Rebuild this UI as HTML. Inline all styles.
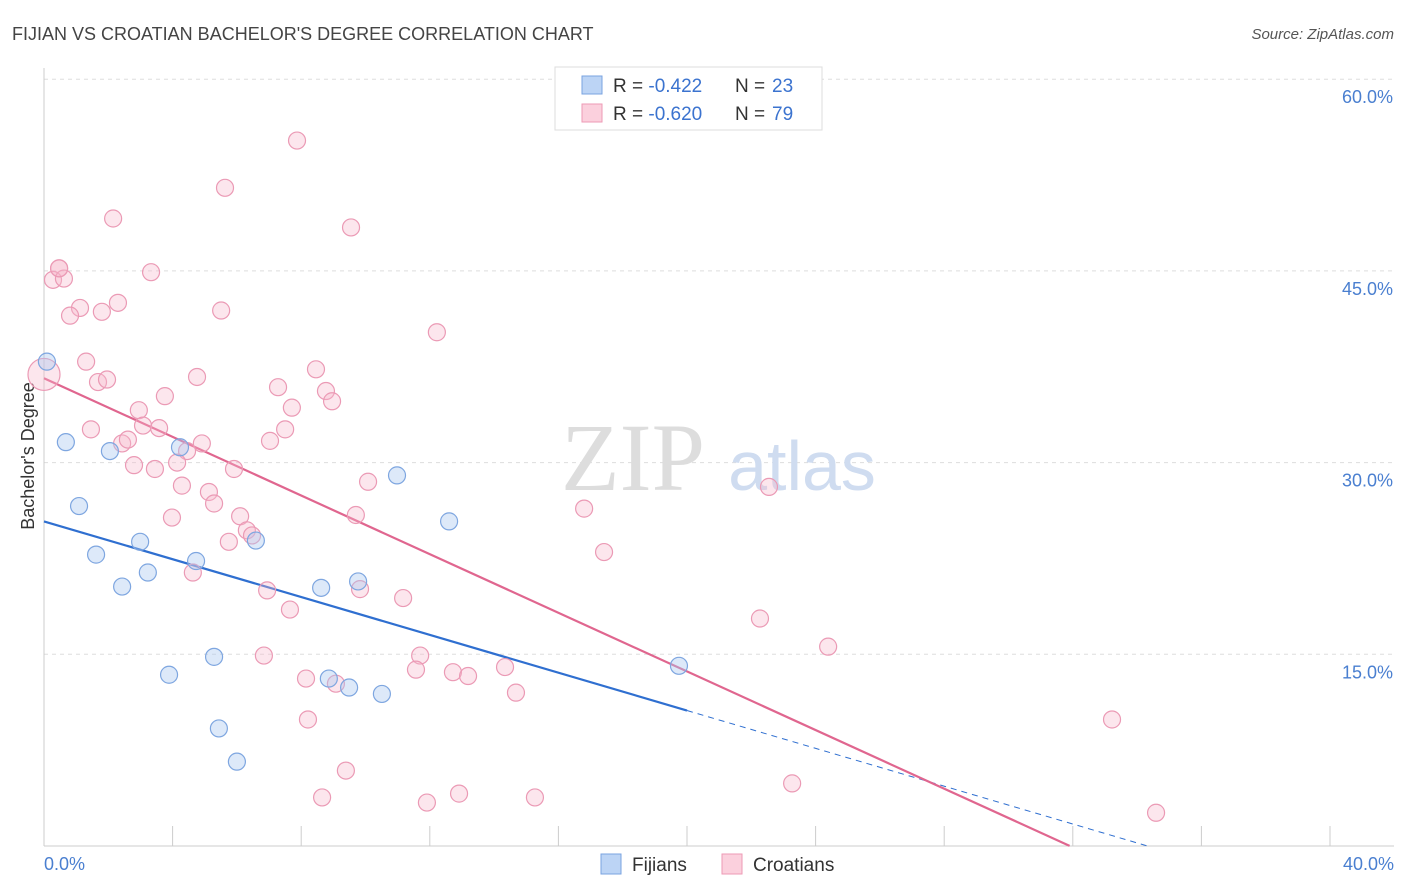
<!DOCTYPE html>
<html><head><meta charset="utf-8"><style>
body{margin:0;background:#fff;font-family:"Liberation Sans",sans-serif}
svg{display:block}
</style></head><body>
<svg id="chart" width="1406" height="892">
<text x="12" y="40" font-size="18" fill="#444">FIJIAN VS CROATIAN BACHELOR'S DEGREE CORRELATION CHART</text>
<text x="1394" y="39" font-size="15" fill="#555" font-style="italic" text-anchor="end">Source: ZipAtlas.com</text>
<g id="grid"></g>
<g id="axes"></g>
<text x="633" y="490" font-size="96" fill="#ddd" font-family="Liberation Serif,serif" text-anchor="middle">ZIP</text>
<text x="802" y="490" font-size="70" fill="#cfdcf0" text-anchor="middle">atlas</text>
<text transform="translate(34,456) rotate(-90)" font-size="18" fill="#333" text-anchor="middle">Bachelor's Degree</text>
<g id="lines"></g>
<g id="pts"></g>
<g>
<rect x="555" y="67" width="267" height="63" fill="#fff" stroke="#ddd"/>
<rect x="582" y="76" width="20" height="18" fill="#bcd4f5" stroke="#7aa3e0"/>
<text x="613" y="92" font-size="19" fill="#333">R = <tspan fill="#3b73cf">-0.422</tspan></text>
<text x="735" y="92" font-size="19" fill="#333">N = </text>
<text x="772" y="92" font-size="19" fill="#3b73cf">23</text>
<rect x="582" y="104" width="20" height="18" fill="#fbd0dd" stroke="#ee9ab5"/>
<text x="613" y="120" font-size="19" fill="#333">R = <tspan fill="#3b73cf">-0.620</tspan></text>
<text x="735" y="120" font-size="19" fill="#333">N = </text>
<text x="772" y="120" font-size="19" fill="#3b73cf">79</text>
</g>
<g>
<rect x="601" y="854" width="20" height="20" fill="#bcd4f5" stroke="#7aa3e0"/>
<text x="632" y="871" font-size="19" fill="#333">Fijians</text>
<rect x="722" y="854" width="20" height="20" fill="#fbd0dd" stroke="#ee9ab5"/>
<text x="753" y="871" font-size="19" fill="#333">Croatians</text>
</g>
</svg>
<script>
const xTicks=[0,4,8,12,16,20,24,28,32,36,40];
const yTicks=[15,30,45,60];
const fijX=[0.09,0.68,1.09,1.62,2.05,2.43,2.99,3.23,3.89,4.23,4.73,5.29,5.44,6.00,6.59,8.62,8.86,9.49,9.77,10.51,10.98,12.60,19.75];
const fijY=[37.9,31.6,26.6,22.8,30.9,20.3,23.8,21.4,13.4,31.2,22.3,14.8,9.2,6.6,23.9,20.2,13.1,12.4,20.7,11.9,29.0,25.4,14.1];
const croX=[7.87,5.63,2.15,9.55,3.33,0.47,0.28,0.62,5.51,1.80,2.30,1.12,0.81,12.22,1.31,1.68,1.96,4.76,8.46,7.28,8.77,8.96,3.76,2.95,7.71,1.46,3.08,3.58,2.43,2.61,4.91,4.45,7.03,7.50,4.14,2.80,3.45,5.91,4.29,10.08,22.55,5.13,5.29,9.70,16.80,3.98,6.10,6.31,6.47,5.75,17.42,4.63,6.94,11.17,7.65,9.83,22.27,24.39,6.84,11.70,11.57,12.72,13.19,14.34,8.15,9.08,14.68,8.21,33.22,9.39,8.65,11.91,12.91,15.27,23.27,34.59,0.0,0.47];
const croY=[55.2,51.5,49.1,48.4,44.9,45.2,44.3,44.4,41.9,41.8,42.5,42.1,41.5,40.2,37.9,36.3,36.5,36.7,37.3,35.9,35.6,34.8,35.2,34.1,34.3,32.6,32.9,32.7,31.5,31.8,31.5,30.9,31.7,32.6,30.0,29.8,29.5,29.5,28.2,28.5,28.1,27.7,26.8,25.9,26.4,25.7,25.8,24.7,24.3,23.8,23.0,21.4,20.0,19.4,18.5,20.1,17.8,15.6,14.9,14.9,13.8,13.6,13.3,14.0,13.1,12.7,12.0,9.9,9.9,5.9,3.8,3.4,4.1,3.8,4.9,2.6,36.9,45.2];
const croR=[10,10,10,10,10,10,10,10,10,10,10,10,10,10,10,10,10,10,10,10,10,10,10,10,10,10,10,10,10,10,10,10,10,10,10,10,10,10,10,10,10,10,10,10,10,10,10,10,10,10,10,10,10,10,10,10,10,10,10,10,10,10,10,10,10,10,10,10,10,10,10,10,10,10,10,10,16,10];
const fijLine=[25.4,-0.74];const fijSolidEnd=20;const fijDashEnd=34.4;
const croLine=[36.6,-1.147];const croEnd=31.9;
const X=v=>44+v*32.15, Y=v=>846-v*12.78;
const NS="http://www.w3.org/2000/svg";
function mk(t,a,p){const e=document.createElementNS(NS,t);for(const k in a)e.setAttribute(k,a[k]);p.appendChild(e);return e;}
const grid=document.getElementById('grid'),axes=document.getElementById('axes');
yTicks.forEach(t=>{const l=mk('line',{x1:44,x2:1394,y1:Y(t),y2:Y(t),stroke:'#ddd','stroke-dasharray':'4,4'},grid);


const tx=mk('text',{x:1393,y:Y(t)+24,'font-size':18,fill:'#4a7fd0','text-anchor':'end'},axes);tx.textContent=t.toFixed(1)+'%';

});
mk('line',{x1:44,x2:44,y1:68,y2:846,stroke:'#ccc'},axes);
mk('line',{x1:44,x2:1394,y1:846,y2:846,stroke:'#ccc'},axes);
xTicks.forEach(t=>{const l=mk('line',{x1:X(t),x2:X(t),y1:826,y2:846,stroke:'#ccc'},axes);

});
[[0,'start'],[40,'end']].forEach(([t,a])=>{const tx=mk('text',{x:t?1394:44,y:870,'font-size':18,fill:'#4a7fd0','text-anchor':a},axes);tx.textContent=t.toFixed(1)+'%';

});
const pts=document.getElementById('pts');
croX.forEach((x,i)=>{const c=mk('circle',{cx:X(x),cy:Y(croY[i]),r:croR[i]==16?16:8.5,fill:'rgba(247,182,203,0.35)',stroke:'#eb9ab5','stroke-width':1.2},pts);

});
fijX.forEach((x,i)=>{const c=mk('circle',{cx:X(x),cy:Y(fijY[i]),r:8.5,fill:'rgba(170,200,240,0.4)',stroke:'#7ea6e0','stroke-width':1.2},pts);

});
const lines=document.getElementById('lines');
const f=v=>fijLine[0]+fijLine[1]*v, g=v=>croLine[0]+croLine[1]*v;
let l1=mk('line',{x1:X(0),y1:Y(f(0)),x2:X(fijSolidEnd),y2:Y(f(fijSolidEnd)),stroke:'#2f6fd0','stroke-width':2.2},lines);


let l2=mk('line',{x1:X(fijSolidEnd),y1:Y(f(fijSolidEnd)),x2:X(fijDashEnd),y2:Y(f(fijDashEnd)),stroke:'#2f6fd0','stroke-width':1,'stroke-dasharray':'6,5'},lines);


let l3=mk('line',{x1:X(0),y1:Y(g(0)),x2:X(croEnd),y2:Y(g(croEnd)),stroke:'#e0668f','stroke-width':2.2},lines);


</script>
</body></html>
